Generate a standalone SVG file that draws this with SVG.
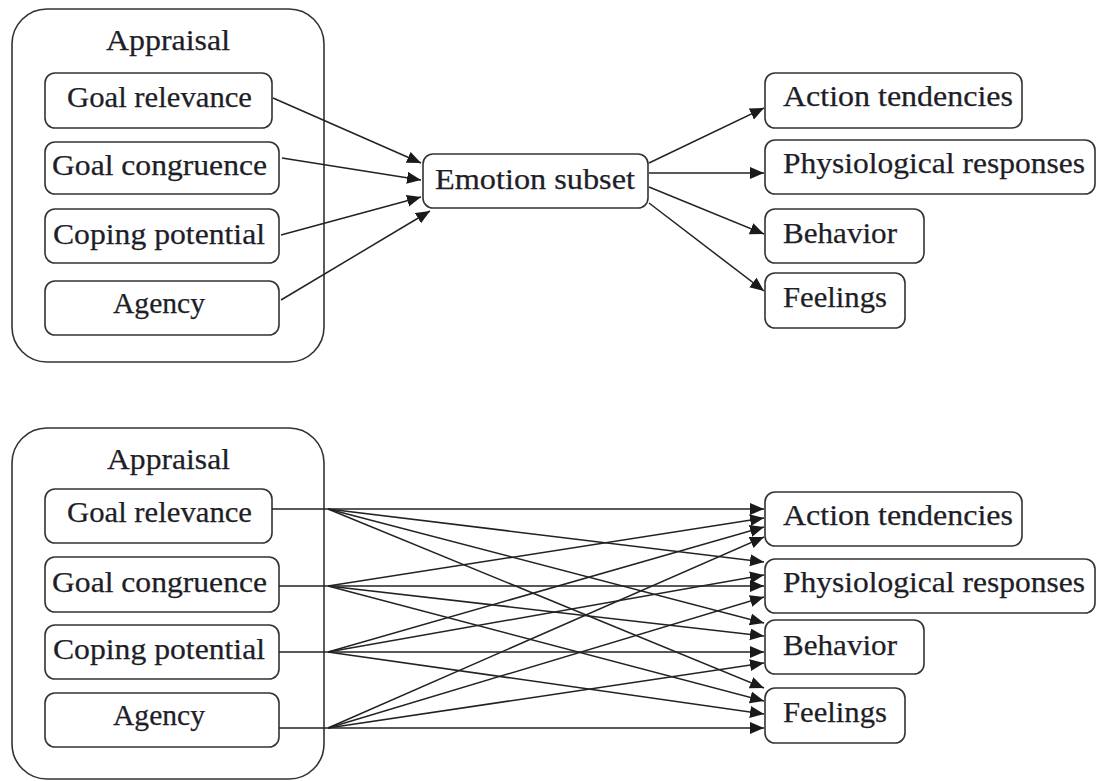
<svg xmlns="http://www.w3.org/2000/svg" width="1097" height="781" viewBox="0 0 1097 781">
<defs>
<style>
.box{fill:#fff;stroke:#333;stroke-width:1.6}
.outer{fill:#fff;stroke:#333;stroke-width:1.6}
.t{font-family:"Liberation Serif","Times New Roman",serif;font-size:30px;fill:#1e1e28;stroke:#1e1e28;stroke-width:0.25}
.c{fill:none;stroke:#222;stroke-width:1.5}
.a{fill:none;stroke:#222;stroke-width:1.5;marker-end:url(#ah)}
</style>
<marker id="ah" markerUnits="userSpaceOnUse" markerWidth="16" markerHeight="13" refX="14" refY="6" orient="auto">
<path d="M0,0 L14,6 L0,12 z" fill="#1a1a1a"/>
</marker>
</defs>
<rect width="1097" height="781" fill="#fff"/>

<!-- Top section -->
<g id="top-appraisal">
<rect class="outer" x="12" y="9" width="312" height="353" rx="35"/>
<text class="t" x="106" y="50" textLength="124" lengthAdjust="spacingAndGlyphs">Appraisal</text>
</g>
<g id="top-goal-relevance">
<rect class="box" x="45" y="73" width="227" height="55" rx="10"/>
<text class="t" x="67" y="107" textLength="185" lengthAdjust="spacingAndGlyphs">Goal relevance</text>
</g>
<g id="top-goal-congruence">
<rect class="box" x="45" y="142" width="234" height="52" rx="10"/>
<text class="t" x="52" y="175" textLength="215" lengthAdjust="spacingAndGlyphs">Goal congruence</text>
</g>
<g id="top-coping-potential">
<rect class="box" x="45" y="209" width="234" height="54" rx="10"/>
<text class="t" x="53" y="244" textLength="212" lengthAdjust="spacingAndGlyphs">Coping potential</text>
</g>
<g id="top-agency">
<rect class="box" x="45" y="281" width="234" height="54" rx="10"/>
<text class="t" x="113" y="313" textLength="92" lengthAdjust="spacingAndGlyphs">Agency</text>
</g>
<g id="top-emotion-subset">
<rect class="box" x="423" y="154" width="225" height="54" rx="10"/>
<text class="t" x="435" y="189" textLength="200" lengthAdjust="spacingAndGlyphs">Emotion subset</text>
</g>
<g id="top-action-tendencies">
<rect class="box" x="765" y="73" width="257" height="55" rx="10"/>
<text class="t" x="783" y="106" textLength="230" lengthAdjust="spacingAndGlyphs">Action tendencies</text>
</g>
<g id="top-physiological-responses">
<rect class="box" x="765" y="140" width="330" height="54" rx="10"/>
<text class="t" x="783" y="173" textLength="302" lengthAdjust="spacingAndGlyphs">Physiological responses</text>
</g>
<g id="top-behavior">
<rect class="box" x="765" y="209" width="159" height="54" rx="10"/>
<text class="t" x="783" y="243" textLength="114" lengthAdjust="spacingAndGlyphs">Behavior</text>
</g>
<g id="top-feelings">
<rect class="box" x="765" y="273" width="140" height="55" rx="10"/>
<text class="t" x="783" y="307" textLength="104" lengthAdjust="spacingAndGlyphs">Feelings</text>
</g>

<!-- Bottom section -->
<g id="bot-appraisal">
<rect class="outer" x="12" y="428" width="312" height="351" rx="35"/>
<text class="t" x="107" y="469" textLength="123" lengthAdjust="spacingAndGlyphs">Appraisal</text>
</g>
<g id="bot-goal-relevance">
<rect class="box" x="45" y="489" width="227" height="54" rx="10"/>
<text class="t" x="67" y="522" textLength="185" lengthAdjust="spacingAndGlyphs">Goal relevance</text>
</g>
<g id="bot-goal-congruence">
<rect class="box" x="45" y="557" width="234" height="55" rx="10"/>
<text class="t" x="52" y="592" textLength="215" lengthAdjust="spacingAndGlyphs">Goal congruence</text>
</g>
<g id="bot-coping-potential">
<rect class="box" x="45" y="625" width="234" height="54" rx="10"/>
<text class="t" x="53" y="659" textLength="212" lengthAdjust="spacingAndGlyphs">Coping potential</text>
</g>
<g id="bot-agency">
<rect class="box" x="45" y="693" width="234" height="54" rx="10"/>
<text class="t" x="113" y="725" textLength="92" lengthAdjust="spacingAndGlyphs">Agency</text>
</g>
<g id="bot-action-tendencies">
<rect class="box" x="765" y="492" width="257" height="54" rx="10"/>
<text class="t" x="783" y="525" textLength="230" lengthAdjust="spacingAndGlyphs">Action tendencies</text>
</g>
<g id="bot-physiological-responses">
<rect class="box" x="765" y="559" width="330" height="54" rx="10"/>
<text class="t" x="783" y="592" textLength="302" lengthAdjust="spacingAndGlyphs">Physiological responses</text>
</g>
<g id="bot-behavior">
<rect class="box" x="765" y="620" width="159" height="54" rx="10"/>
<text class="t" x="783" y="655" textLength="114" lengthAdjust="spacingAndGlyphs">Behavior</text>
</g>
<g id="bot-feelings">
<rect class="box" x="765" y="688" width="140" height="55" rx="10"/>
<text class="t" x="783" y="722" textLength="104" lengthAdjust="spacingAndGlyphs">Feelings</text>
</g>

<g id="connectors">
<!-- top: appraisal to emotion subset -->
<line class="a" x1="273" y1="98" x2="421" y2="163"/>
<line class="a" x1="282" y1="158" x2="421" y2="180"/>
<line class="a" x1="281" y1="235" x2="421" y2="197"/>
<line class="a" x1="281" y1="300" x2="430" y2="211"/>
<!-- top: emotion subset to outputs -->
<line class="a" x1="649" y1="163" x2="764" y2="108"/>
<line class="a" x1="649" y1="173" x2="764" y2="173"/>
<line class="a" x1="649" y1="187" x2="764" y2="234"/>
<line class="a" x1="649" y1="203" x2="764" y2="291"/>

<!-- bottom: stems -->
<line class="c" x1="272" y1="509" x2="328" y2="509"/>
<line class="c" x1="279" y1="586" x2="328" y2="586"/>
<line class="c" x1="279" y1="652" x2="328" y2="652"/>
<line class="c" x1="279" y1="728" x2="328" y2="728"/>
<!-- Goal relevance -->
<line class="a" x1="328" y1="509" x2="764" y2="509"/>
<line class="a" x1="328" y1="509" x2="764" y2="562"/>
<line class="a" x1="328" y1="509" x2="764" y2="623"/>
<line class="a" x1="328" y1="509" x2="764" y2="688"/>
<!-- Goal congruence -->
<line class="a" x1="328" y1="586" x2="764" y2="518"/>
<line class="a" x1="328" y1="586" x2="764" y2="586"/>
<line class="a" x1="328" y1="586" x2="764" y2="636"/>
<line class="a" x1="328" y1="586" x2="764" y2="701"/>
<!-- Coping potential -->
<line class="a" x1="328" y1="652" x2="764" y2="527"/>
<line class="a" x1="328" y1="652" x2="764" y2="575"/>
<line class="a" x1="328" y1="652" x2="764" y2="652"/>
<line class="a" x1="328" y1="652" x2="764" y2="714"/>
<!-- Agency -->
<line class="a" x1="328" y1="728" x2="764" y2="537"/>
<line class="a" x1="328" y1="728" x2="764" y2="597"/>
<line class="a" x1="328" y1="728" x2="764" y2="663"/>
<line class="a" x1="328" y1="728" x2="764" y2="728"/>
</g>
</svg>
